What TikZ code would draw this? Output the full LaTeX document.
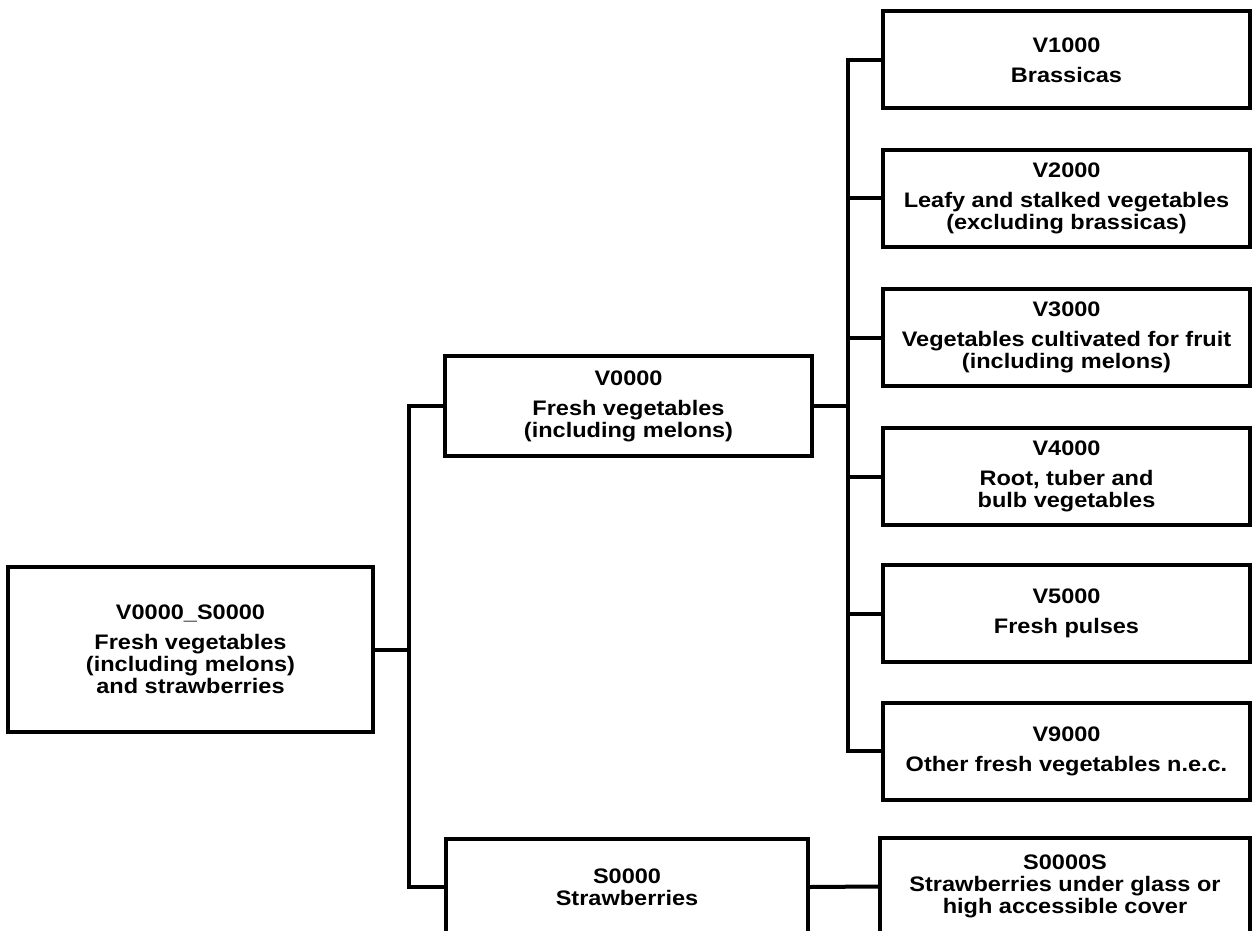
\documentclass[tikz,border=0pt]{standalone}
\usepackage{fontspec}
\setmainfont{Liberation Sans}[FakeStretch=1.12]
\begin{document}
\begin{tikzpicture}[x=1pt,y=-1pt,
  catbox/.style={draw=black,line width=4pt,rectangle,inner sep=0pt,
    align=center,font=\bfseries\fontsize{21}{22}\selectfont},
  leaf/.style={catbox,minimum width=367pt,minimum height=97pt},
  link/.style={draw=black,line width=4pt}]
\useasboundingbox (0,0) rectangle (1255,931);
\clip (0,0) rectangle (1255,931);
\fill[white] (0,0) rectangle (1255,931);

% top level
\node[catbox,minimum width=365pt,minimum height=165pt] (root) at (190.5,649.5)
  {V0000\_S0000\\[8pt]Fresh vegetables\\(including melons)\\and strawberries};

% second level
\node[catbox,minimum width=367pt,minimum height=100pt] (v0) at (628.5,406)
  {V0000\\[8pt]Fresh vegetables\\(including melons)};
\node[catbox,minimum width=362pt,minimum height=96pt] (s0) at (627,887)
  {S0000\\Strawberries};

% vegetable groups
\node[leaf] (v1) at (1066.5,60) {V1000\\[8pt]Brassicas};
\node[leaf] (v2) at (1066.5,198) {V2000\\[8pt]Leafy and stalked vegetables\\(excluding brassicas)};
\node[leaf] (v3) at (1066.5,337.5) {V3000\\[8pt]Vegetables cultivated for fruit\\(including melons)};
\node[leaf] (v4) at (1066.5,476.5) {V4000\\[8pt]Root, tuber and\\bulb vegetables};
\node[leaf] (v5) at (1066.5,613.5) {V5000\\[8pt]Fresh pulses};
\node[leaf] (v9) at (1066.5,751) {V9000\\[8pt]Other fresh vegetables n.e.c.};

% strawberry group
\node[leaf,minimum width=370pt] (s0s) at (1065,886.5)
  {S0000S\\Strawberries under glass or\\high accessible cover};

% junctions of the tree
\coordinate (j1) at (409,649.5);
\coordinate (j2) at (848,406);

\draw[link] (root.east) -- (j1);
\draw[link] (v0.west) -| (j1);
\draw[link] (s0.west) -| (j1);

\draw[link] (v0.east) -- (j2);
\foreach \n in {v1,v2,v3,v4,v5,v9}
  \draw[link] (\n.west) -| (j2);

\draw[link] (s0.east) -- (s0s.west);
\end{tikzpicture}
\end{document}
